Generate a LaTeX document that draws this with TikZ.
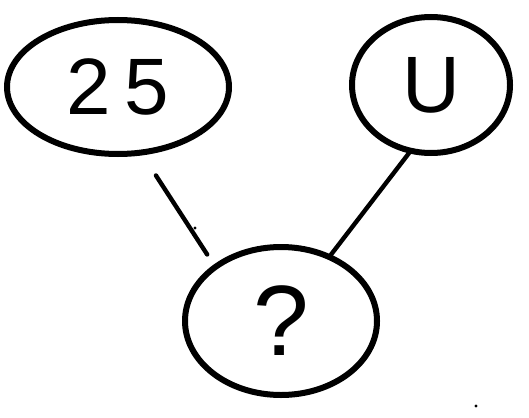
\documentclass[tikz,border=0pt]{standalone}
\usepackage{fontspec}
\setmainfont{Liberation Sans}
\usetikzlibrary{shapes.geometric}
\begin{document}
\begin{tikzpicture}[x=1pt,y=-1pt,
  blob/.style={ellipse,draw,line width=6pt,inner sep=0pt,font=\fontsize{80}{84}\selectfont},
  link/.style={line width=4.4pt,line cap=round}]
\useasboundingbox[fill=white] (0,0) rectangle (529,417);
\node[blob,minimum width=222pt,minimum height=134pt] (a) at (118,87) {2\,5};
\node[blob,minimum width=158pt,minimum height=136pt] (b) at (431,85) {U};
\node[blob,minimum width=192pt,minimum height=148pt,font=\fontsize{100}{104}\selectfont] (c) at (281,321) {?};
\draw[link,shorten <=24pt,shorten >=12pt] (a.-70) -- (c.140);
\draw[link,shorten <=-3pt,shorten >=0pt] (b.-108) -- (c.53);
\fill (195,228) circle (1.6pt);
\fill (476,406) circle (1.6pt);
\end{tikzpicture}
\end{document}
